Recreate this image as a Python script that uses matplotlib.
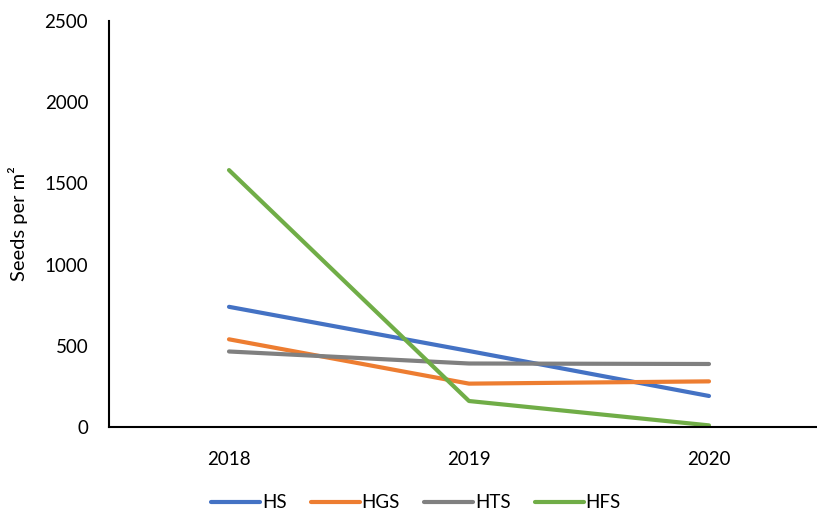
import numpy as np
import matplotlib.pyplot as plt

plt.rcParams['font.family'] = ['Lato', 'DejaVu Sans']

years = ['2018', '2019', '2020']
hs = [740, 468, 191]
hgs = [540, 267, 281]
hts = [465, 391, 388]
hfs = [1582, 160, 10]

series = [('HS', hs, '#4472C4'), ('HGS', hgs, '#ED7D31'),
          ('HTS', hts, '#808080'), ('HFS', hfs, '#70AD47')]

fig = plt.figure(figsize=(8.17, 5.17), dpi=100)
ax = fig.add_axes([109/817, 90/517, 720/817, 406/517])

x = np.arange(len(years))
for name, vals, col in series:
    ax.plot(x, vals, color=col, lw=3, label=name, solid_capstyle='round')

ax.set_xlim(-0.5, 2.5)
ax.set_ylim(0, 2500)
ax.set_yticks(np.arange(0, 2501, 500))
ax.set_xticks(x)
ax.set_xticklabels(years)
ax.tick_params(axis='both', length=0, labelsize=13.5, colors='black')
ax.tick_params(axis='y', pad=15)
ax.tick_params(axis='x', pad=17)
for s in ['top', 'right']:
    ax.spines[s].set_visible(False)
ax.spines['left'].set_linewidth(1.5)
ax.spines['bottom'].set_linewidth(1.5)
ax.set_ylabel('Seeds per m²', fontsize=14.5, labelpad=12)

fig.legend(loc='center', bbox_to_anchor=(416/817, 1 - 503/517), ncol=4,
           frameon=False, fontsize=13.5, handlelength=2.6, columnspacing=1.3,
           handletextpad=0.1)

fig.savefig('out.png', dpi=100)
